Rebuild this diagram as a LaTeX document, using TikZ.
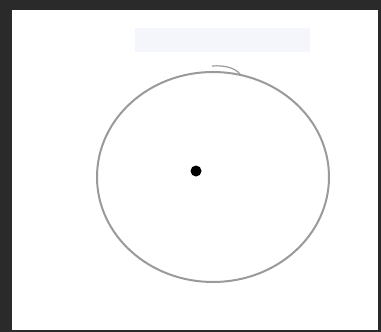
\documentclass[tikz,border=0pt]{standalone}
\usepackage{xcolor}
\definecolor{frameink}{HTML}{2A2A2A}
\definecolor{pencil}{HTML}{9A9A9A}
\definecolor{paperblue}{HTML}{F4F6FB}

\begin{document}
\begin{tikzpicture}[x=1pt,y=-1pt,
  ring/.style={draw=pencil, line width=2pt},
  spot/.style={circle, fill=black, inner sep=0pt, minimum width=11pt, minimum height=10pt}]
\useasboundingbox (0,0) rectangle (381,332);
% frame and paper
\fill[frameink] (0,0) rectangle (381,332);
\fill[white] (12,10) rectangle (378,330);
\fill[paperblue] (135,28) rectangle (310,52);
% ring
\draw[ring] (213,177) ellipse [x radius=116, y radius=105];
\draw[pencil, line width=1.2pt] (212,66) .. controls (225,65) and (235,68) .. (240,74);
% centre dot
\node[spot] (centre) at (196,171) {};
\end{tikzpicture}
\end{document}
